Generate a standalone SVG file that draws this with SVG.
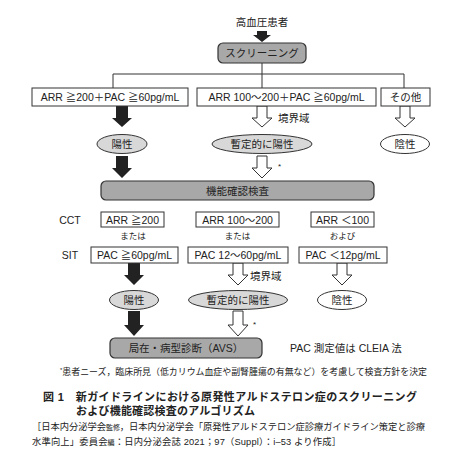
<svg xmlns="http://www.w3.org/2000/svg" width="474" height="467" viewBox="0 0 474 467">
<style>
text{font-family:"Liberation Sans","Noto Sans CJK JP",sans-serif;fill:#222;}
.t{font-size:10.5px;text-anchor:middle;dominant-baseline:central;}
.box{fill:#fff;stroke:#333;stroke-width:1;}
.rbox{fill:#a8a8a8;stroke:#333;stroke-width:1.2;}
.eg{fill:#d8d8d8;stroke:#333;stroke-width:1;}
.ew{fill:#fff;stroke:#333;stroke-width:1;}
.ab{fill:#222;stroke:none;}
.ah{fill:#fff;stroke:#333;stroke-width:1;}
.ln{stroke:#333;stroke-width:1;fill:none;}
.cap{font-size:11px;font-weight:bold;}
.ft{font-size:9px;}
.ref{font-size:9.3px;}
</style>
<rect width="474" height="467" fill="#fff"/>
<g id="connectors">
<path class="ln" d="M262,63 V74 M113,74 H404 M113,74 V88 M262,74 V88 M404,74 V88"/>
<path class="ab" d="M257,31H267V35H271L262,42L253,35H257Z"/>
<path class="ab" d="M116,106H128V118H132L122,127L112,118H116Z"/>
<path class="ah" d="M257,106H267V118H272L262,127L252,118H257Z"/>
<path class="ah" d="M400,106H410V118H415L405,127L395,118H400Z"/>
<path class="ab" d="M116,156H128V168H132L122,178L112,168H116Z"/>
<path class="ah" d="M257,156H267V168H272L262,178L252,168H257Z"/>
<path class="ab" d="M128,263H140V275H144L134,285L124,275H128Z"/>
<path class="ah" d="M233,263H243V275H248L238,285L228,275H233Z"/>
<path class="ah" d="M337,263H347V275H352L342,285L332,275H337Z"/>
<path class="ab" d="M128,311H140V325H144L134,336L124,325H128Z"/>
<path class="ah" d="M233,311H243V325H248L238,336L228,325H233Z"/>
<text x="278" y="118" style="font-size:10.5px;dominant-baseline:central">境界域</text>
<text x="278" y="166" style="font-size:8px;dominant-baseline:central">*</text>
<text x="250" y="276" style="font-size:10.5px;dominant-baseline:central">境界域</text>
<text x="253" y="324" style="font-size:8px;dominant-baseline:central">*</text>
</g>
<g id="patient"><text class="t" x="262" y="22">高血圧患者</text></g>
<g id="screening"><rect class="rbox" x="218" y="43" width="88" height="20" rx="5"/><text class="t" x="262" y="53">スクリーニング</text></g>
<g id="s1"><rect class="box" x="32" y="88" width="156" height="18"/><text class="t" x="110" y="97">ARR ≧200＋PAC ≧60pg/mL</text></g>
<g id="s2"><rect class="box" x="197" y="88" width="179" height="18"/><text class="t" x="286.5" y="97">ARR 100～200＋PAC ≧60pg/mL</text></g>
<g id="s3"><rect class="box" x="381" y="88" width="49" height="18"/><text class="t" x="405.5" y="97">その他</text></g>
<g id="pos1"><ellipse class="eg" cx="122" cy="144" rx="25" ry="9.5"/><text class="t" x="122" y="144">陽性</text></g>
<g id="prov1"><ellipse class="eg" cx="262" cy="144" rx="50" ry="9.5"/><text class="t" x="262" y="144">暫定的に陽性</text></g>
<g id="neg1"><ellipse class="ew" cx="405" cy="144" rx="24.5" ry="9.5"/><text class="t" x="405" y="144">陰性</text></g>
<g id="confirm"><rect class="rbox" x="101" y="181" width="273" height="19" rx="5"/><text class="t" x="237.5" y="190.5">機能確認検査</text></g>
<g id="cct"><text class="t" x="70" y="220">CCT</text></g>
<g id="sit"><text class="t" x="70" y="255">SIT</text></g>
<g id="c1"><rect class="box" x="101" y="212" width="63" height="15"/><text class="t" x="132.5" y="219.5">ARR ≧200</text></g>
<g id="c2"><rect class="box" x="196" y="212" width="83" height="15"/><text class="t" x="237.5" y="219.5">ARR 100～200</text></g>
<g id="c3"><rect class="box" x="311" y="212" width="63" height="15"/><text class="t" x="342.5" y="219.5">ARR ＜100</text></g>
<g id="or1"><text class="t" x="133" y="236" style="font-size:8.5px">または</text></g>
<g id="or2"><text class="t" x="237.5" y="236" style="font-size:8.5px">または</text></g>
<g id="and3"><text class="t" x="342.5" y="236" style="font-size:8.5px">および</text></g>
<g id="p1"><rect class="box" x="91" y="247" width="87" height="16"/><text class="t" x="134.5" y="255">PAC ≧60pg/mL</text></g>
<g id="p2"><rect class="box" x="188" y="247" width="100" height="16"/><text class="t" x="238" y="255">PAC 12～60pg/mL</text></g>
<g id="p3"><rect class="box" x="299" y="247" width="88" height="16"/><text class="t" x="343" y="255">PAC ＜12pg/mL</text></g>
<g id="pos2"><ellipse class="eg" cx="134" cy="300" rx="24.5" ry="9.5"/><text class="t" x="134" y="300">陽性</text></g>
<g id="prov2"><ellipse class="eg" cx="238" cy="300" rx="49.5" ry="9.5"/><text class="t" x="238" y="300">暫定的に陽性</text></g>
<g id="neg2"><ellipse class="ew" cx="342" cy="300" rx="24.5" ry="9.5"/><text class="t" x="342" y="300">陰性</text></g>
<g id="avs"><rect class="rbox" x="110" y="338" width="152" height="20" rx="5"/><text class="t" x="186" y="348">局在・病型診断（AVS）</text></g>
<g id="note"><text x="290" y="348" style="font-size:10.5px;dominant-baseline:central">PAC 測定値は CLEIA 法</text></g>
<g id="footnote"><text class="ft" x="60" y="375" textLength="367" lengthAdjust="spacingAndGlyphs"><tspan style="font-size:6px" dy="-3">*</tspan><tspan dy="3">患者ニーズ，臨床所見（低カリウム血症や副腎腫瘍の有無など）を考慮して検査方針を決定</tspan></text></g>
<g id="caption">
<text class="cap" x="43" y="401" textLength="374" lengthAdjust="spacing">図 1　新ガイドラインにおける原発性アルドステロン症のスクリーニング</text>
<text class="cap" x="76" y="415" textLength="179" lengthAdjust="spacing">および機能確認検査のアルゴリズム</text>
<text class="ref" x="32" y="430" textLength="393" lengthAdjust="spacing">［日本内分泌学会<tspan style="font-size:7px">監修</tspan>，日本内分泌学会「原発性アルドステロン症診療ガイドライン策定と診療</text>
<text class="ref" x="32" y="445" textLength="309" lengthAdjust="spacing">水準向上」委員会<tspan style="font-size:7px">編</tspan>：日内分泌会誌 2021；97（Suppl）：i–53 より作成］</text>
</g>
</svg>
